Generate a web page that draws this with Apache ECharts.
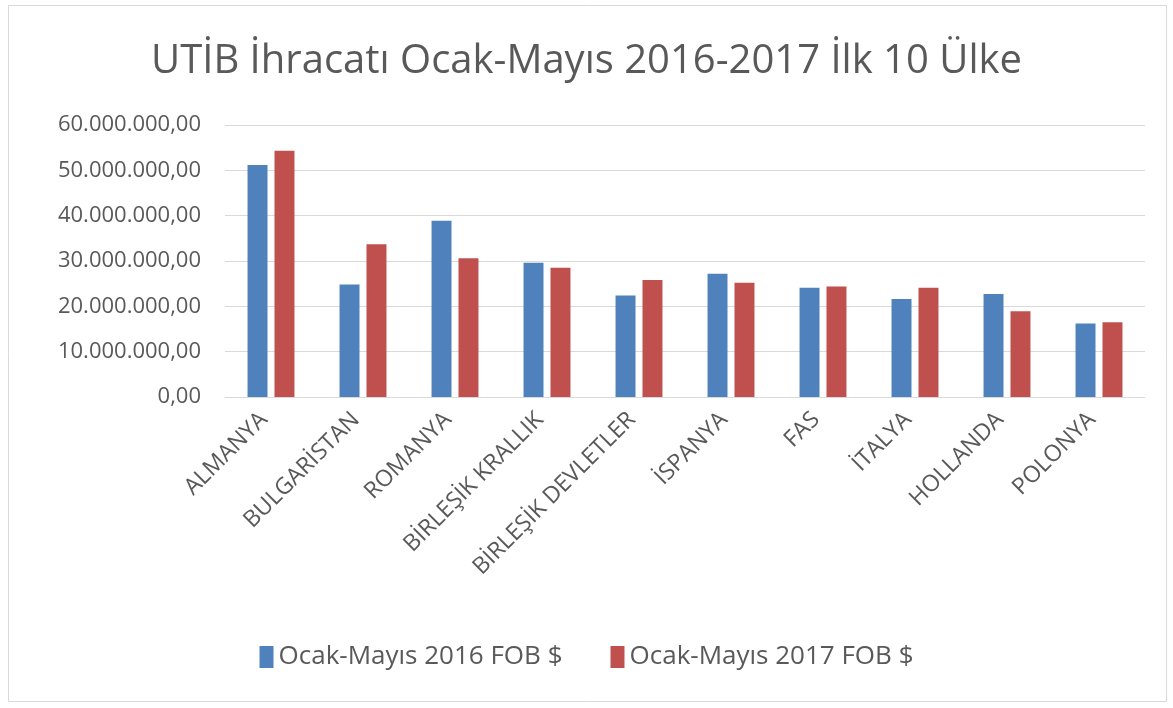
<!DOCTYPE html>
<html>
<head>
<meta charset="utf-8">
<script src="https://cdn.jsdelivr.net/npm/echarts@6/dist/echarts.min.js"></script>
<style>
  html, body { margin: 0; padding: 0; background: #fff; }
  #chart { width: 1173px; height: 708px; }
</style>
</head>
<body>
<div id="chart"></div>
<script>
const countries = ["ALMANYA", "BULGARİSTAN", "ROMANYA", "BİRLEŞİK KRALLIK", "BİRLEŞİK DEVLETLER", "İSPANYA", "FAS", "İTALYA", "HOLLANDA", "POLONYA"];
const fob2016 = [51200000, 24800000, 38900000, 29600000, 22400000, 27200000, 24100000, 21600000, 22700000, 16200000];
const fob2017 = [54300000, 33700000, 30600000, 28500000, 25800000, 25200000, 24400000, 24100000, 18900000, 16500000];
const seriesNames = ["Ocak-Mayıs 2016 FOB $", "Ocak-Mayıs 2017 FOB $"];

const textColor = "#595959";
const font = "Open Sans";

// 60000000 -> 60.000.000,00
const trFormat = v => {
  const s = String(Math.round(v)).replace(/\B(?=(\d{3})+(?!\d))/g, ".");
  return s + ",00";
};

const chart = echarts.init(document.getElementById("chart"));
chart.setOption({
  animation: false,
  graphic: [
    {
      type: "rect",
      shape: { x: 8.5, y: 5.5, width: 1158, height: 696 },
      style: { fill: "none", stroke: "#d9d9d9", lineWidth: 1 }
    }
  ],
  title: {
    text: "UTİB İhracatı Ocak-Mayıs 2016-2017 İlk 10 Ülke",
    left: "center",
    top: 37,
    textStyle: { color: textColor, fontFamily: font, fontSize: 40, fontWeight: "normal" }
  },
  legend: {
    data: seriesNames,
    bottom: 33,
    left: "center",
    itemWidth: 14,
    itemHeight: 22,
    itemGap: 48,
    icon: "rect",
    textStyle: { color: textColor, fontFamily: font, fontSize: 26 }
  },
  grid: { left: 225, right: 28, top: 125, bottom: 311 },
  xAxis: {
    type: "category",
    data: countries,
    axisLine: { show: true, lineStyle: { color: "#d9d9d9" } },
    axisTick: { show: false },
    axisLabel: {
      rotate: 45,
      interval: 0,
      color: textColor,
      fontFamily: font,
      fontSize: 23,
      margin: 12,
      padding: [0, 10, 0, 0]
    }
  },
  yAxis: {
    type: "value",
    min: 0,
    max: 60000000,
    interval: 10000000,
    axisLine: { show: false },
    axisTick: { show: false },
    splitLine: { lineStyle: { color: "#d9d9d9" } },
    axisLabel: {
      color: textColor,
      fontFamily: font,
      fontSize: 22,
      margin: 24,
      formatter: trFormat
    }
  },
  series: [
    {
      name: seriesNames[0],
      type: "bar",
      data: fob2016,
      barGap: "35%",
      barCategoryGap: "49%",
      itemStyle: { color: "#4f81bd" }
    },
    {
      name: seriesNames[1],
      type: "bar",
      data: fob2017,
      itemStyle: { color: "#c0504d" }
    }
  ]
});
</script>
</body>
</html>
